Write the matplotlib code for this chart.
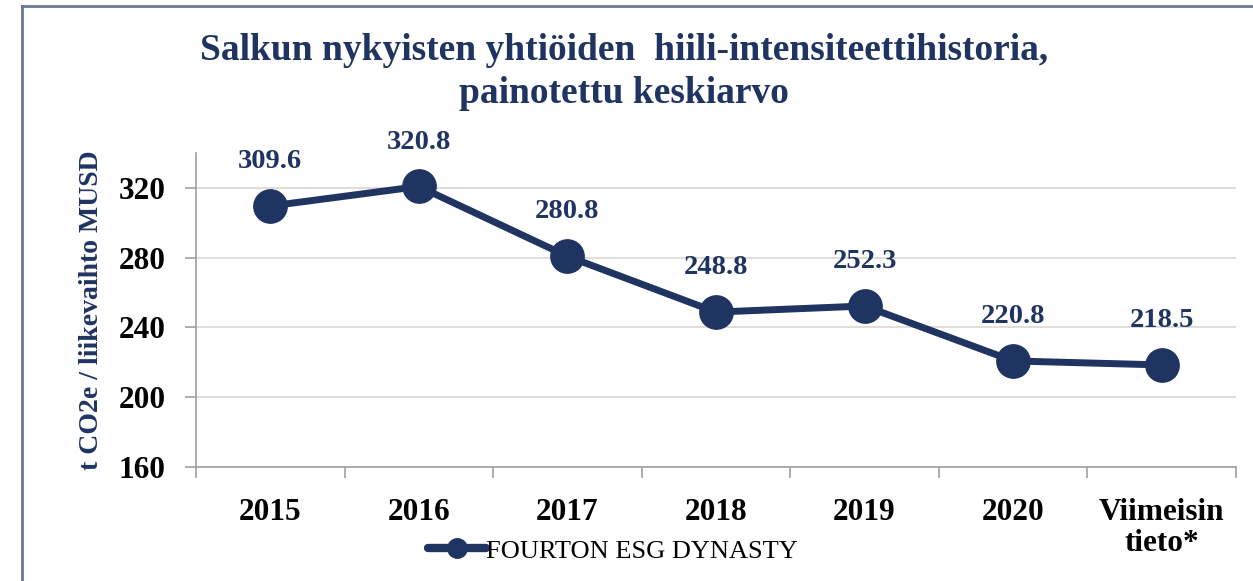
import matplotlib
matplotlib.use("Agg")
import matplotlib.pyplot as plt
from matplotlib.lines import Line2D

categories = ["2015", "2016", "2017", "2018", "2019", "2020", "Viimeisin\ntieto*"]
values = [309.6, 320.8, 280.8, 248.8, 252.3, 220.8, 218.5]
value_labels = ["309.6", "320.8", "280.8", "248.8", "252.3", "220.8", "218.5"]
yticks = [160, 200, 240, 280, 320]
series_name = "FOURTON ESG DYNASTY"
title = "Salkun nykyisten yhtiöiden  hiili-intensiteettihistoria,\npainotettu keskiarvo"
ylabel = "t CO2e / liikevaihto MUSD"

navy = "#1F3461"
serif = ["Liberation Serif", "DejaVu Serif"]
plt.rcParams["font.family"] = serif

fig = plt.figure(figsize=(12.53, 5.81), dpi=100)
ax = fig.add_axes([0.1564, 0.1962, 0.8300, 0.5405])

x = list(range(len(categories)))
line, = ax.plot(x, values, color=navy, lw=5, marker="o", markersize=24,
                solid_capstyle="round", zorder=3, label=series_name)
for xi, v, lab in zip(x, values, value_labels):
    ax.annotate(lab, (xi, v), xytext=(0, 32), textcoords="offset points",
                ha="center", va="center", fontsize=20.5, fontweight="bold", color=navy)

ax.set_xlim(-0.5, len(categories) - 0.5)
ax.set_ylim(160, 340)
ax.set_yticks(yticks)
ax.set_yticklabels([str(t) for t in yticks], fontsize=22.5, fontweight="bold")
ax.set_xticks(x)
ax.set_xticklabels(categories, fontsize=22.5, fontweight="bold", linespacing=1.1, va="top")
ax.set_xticks([i - 0.5 for i in range(len(categories) + 1)], minor=True)
ax.tick_params(axis="x", which="major", length=0, pad=22)
ax.tick_params(axis="x", which="minor", length=8, color="#a0a0a0", width=1.2)
ax.tick_params(axis="y", length=8, color="#a0a0a0", width=1.2, pad=14)
ax.grid(axis="y", color="#dcd8d2", lw=1.2)
ax.set_axisbelow(True)
for s in ["top", "right"]:
    ax.spines[s].set_visible(False)
for s in ["left", "bottom"]:
    ax.spines[s].set_color("#a0a0a0")
    ax.spines[s].set_linewidth(1.2)

ax.set_ylabel(ylabel, fontsize=20, fontweight="bold", color=navy)
ax.yaxis.set_label_coords(-0.088, 0.5)

fig.text(0.498, 0.876, title, ha="center", va="center", fontsize=27,
         fontweight="bold", color=navy, linespacing=1.3)

leg = fig.legend(handles=[line], loc="center", bbox_to_anchor=(0.489, 0.052),
                 frameon=False, fontsize=19, handlelength=2.2, handletextpad=0.0)
for h in leg.legend_handles:
    h.set_markersize(14)
    h.set_linewidth(6)

fig.add_artist(Line2D([22 / 1253, 22 / 1253], [0, 1 - 6 / 581], transform=fig.transFigure,
                      color="#6b7896", lw=2))
fig.add_artist(Line2D([22 / 1253, 1], [1 - 6 / 581, 1 - 6 / 581], transform=fig.transFigure,
                      color="#6b7896", lw=2))

fig.savefig("out.png", dpi=100, facecolor="white")
